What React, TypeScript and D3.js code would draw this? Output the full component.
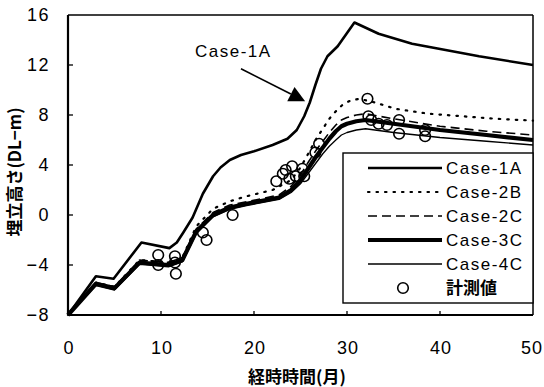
import React from "react";
import * as d3 from "d3";

// Fill height (DL-m) versus elapsed time (months), per analysis case
const case1A: [number, number][] = [
  [0, -8], [3.0, -4.9], [4.9, -5.1], [7.9, -2.2], [10.9, -2.65], [11.7, -2.2],
  [12.4, -1.4], [13.4, -0.2], [14.5, 1.7], [15.6, 3.1], [16.4, 3.8], [17.4, 4.4],
  [18.6, 4.8], [20, 5.1], [22, 5.6], [23.6, 6.1], [24.6, 6.8], [25.4, 7.9],
  [26.0, 9.0], [26.6, 10.4], [27.2, 11.7], [27.9, 12.7], [29, 13.5], [30.8, 15.4],
  [33.4, 14.5], [37, 13.7], [40.6, 13.2], [44.2, 12.7], [50, 12.0],
];

const case2B: [number, number][] = [
  [0, -8], [3, -5.4], [5, -5.75], [7.7, -3.6], [10.8, -3.8], [12.3, -3.4],
  [13.8, -0.9], [15.6, 0.5], [17.4, 1.1], [19.2, 1.5], [22, 2.0], [24, 2.8],
  [25, 3.8], [25.9, 5.0], [26.7, 6.1], [27.4, 6.9], [28.1, 7.7], [28.8, 8.3],
  [29.5, 8.8], [30.2, 9.1], [31.3, 9.3], [33, 9.0], [35.2, 8.5], [38.8, 8.1],
  [42.4, 7.9], [45.9, 7.7], [50, 7.55],
];

const case2C: [number, number][] = [
  [0, -8], [3, -5.4], [5, -5.75], [7.7, -3.6], [10.8, -3.8], [12.3, -3.4],
  [13.8, -1.1], [15.6, 0.2], [17.4, 0.8], [19.2, 1.05], [22.7, 1.6], [24, 2.3],
  [25, 3.2], [25.9, 4.3], [26.7, 5.2], [27.4, 5.9], [28.1, 6.6], [28.8, 7.2],
  [29.4, 7.6], [30, 7.8], [31, 8.0], [32, 8.1], [35, 7.7], [40, 7.1], [45, 6.7],
  [50, 6.4],
];

const case3C: [number, number][] = [
  [0, -8], [3, -5.5], [5, -5.85], [7.7, -3.8], [10.8, -4.0], [12.3, -3.6],
  [13.8, -1.3], [15.6, 0.0], [17.4, 0.6], [19.2, 0.9], [22.7, 1.4], [24, 2.0],
  [25, 2.8], [25.9, 3.8], [26.7, 4.7], [27.4, 5.4], [28.1, 6.1], [28.8, 6.7],
  [29.4, 7.1], [30, 7.3], [31, 7.5], [32, 7.6], [35, 7.3], [40, 6.8], [45, 6.4],
  [50, 6.0],
];

const case4C: [number, number][] = [
  [0, -8], [3, -5.65], [5, -6.0], [7.7, -3.95], [10.8, -4.15], [12.3, -3.75],
  [13.8, -1.5], [15.6, -0.15], [17.4, 0.45], [19.2, 0.75], [22.7, 1.25], [24, 1.8],
  [25, 2.5], [25.9, 3.4], [26.7, 4.2], [27.4, 4.9], [28.1, 5.5], [28.8, 6.0],
  [29.4, 6.4], [30, 6.6], [31, 6.8], [32, 6.9], [35, 6.6], [40, 6.2], [45, 5.9],
  [50, 5.6],
];

// Field measurements (month, fill height)
const measured: [number, number][] = [
  [9.7, -3.2], [9.7, -4.0], [11.5, -3.3], [11.5, -3.8], [11.6, -4.7],
  [14.5, -1.4], [14.9, -2.0], [17.7, 0.0],
  [22.4, 2.7], [23.1, 3.3], [23.4, 3.6], [23.8, 2.9], [24.1, 3.9], [24.5, 3.1],
  [25.2, 3.7], [25.4, 3.1], [26.6, 5.0], [27.0, 5.7],
  [32.2, 9.3], [32.3, 7.9], [32.6, 7.6], [33.4, 7.3], [34.3, 7.2],
  [35.6, 7.6], [35.6, 6.5], [38.4, 6.8], [38.4, 6.3],
];

const xTicks = [0, 10, 20, 30, 40, 50];
const yTicks = [-8, -4, 0, 4, 8, 12, 16];

const legendLabels = ["Case-1A", "Case-2B", "Case-2C", "Case-3C", "Case-4C", "計測値"];

type Style = { width: number; dash?: string; cap?: "round" | "butt" };
const seriesStyles: Style[] = [
  { width: 2.6 },
  { width: 2.2, dash: "1.5 7", cap: "round" },
  { width: 1.6, dash: "9 5" },
  { width: 4.2 },
  { width: 1.3 },
];

const W = 544;
const H = 387;
const plot = { left: 68, right: 533, top: 15, bottom: 315 };

const latin = "'Liberation Sans', Arial, sans-serif";
const cjk = "'Noto Sans CJK JP', 'Liberation Sans', sans-serif";

export default function App() {
  const x = d3.scaleLinear().domain([0, 50]).range([plot.left, plot.right]);
  const y = d3.scaleLinear().domain([-8, 16]).range([plot.bottom, plot.top]);

  const line = d3
    .line<[number, number]>()
    .x((d) => x(d[0]))
    .y((d) => y(d[1]))
    .curve(d3.curveLinear);

  const series = [case1A, case2B, case2C, case3C, case4C];

  // annotation arrow for Case-1A
  const arrowFrom: [number, number] = [18.6, 11.7];
  const arrowTip: [number, number] = [25.5, 9.1];
  const ax0 = x(arrowFrom[0]);
  const ay0 = y(arrowFrom[1]);
  const ax1 = x(arrowTip[0]);
  const ay1 = y(arrowTip[1]);
  const len = Math.hypot(ax1 - ax0, ay1 - ay0);
  const ux = (ax1 - ax0) / len;
  const uy = (ay1 - ay0) / len;
  const headL = 16;
  const headW = 8;
  const bx = ax1 - ux * headL;
  const by = ay1 - uy * headL;
  const head = [
    [ax1, ay1],
    [bx - uy * headW, by + ux * headW],
    [bx + uy * headW, by - ux * headW],
  ]
    .map((p) => p.join(","))
    .join(" ");

  const legend = { left: 343, top: 153, right: 533, bottom: 303, row0: 168, step: 24 };

  return (
    <svg
      width={W}
      height={H}
      style={{ position: "absolute", left: 0, top: 0, background: "#fff" }}
    >
      <rect x={0} y={0} width={W} height={H} fill="#fff" />

      {/* series lines */}
      {series.map((s, i) => (
        <path
          key={i}
          d={line(s) || ""}
          fill="none"
          stroke="#000"
          strokeWidth={seriesStyles[i].width}
          strokeDasharray={seriesStyles[i].dash}
          strokeLinecap={seriesStyles[i].cap || "butt"}
          strokeLinejoin="round"
        />
      ))}

      {/* measured points */}
      {measured.map((d, i) => (
        <circle
          key={i}
          cx={x(d[0])}
          cy={y(d[1])}
          r={5.3}
          fill="none"
          stroke="#000"
          strokeWidth={1.6}
        />
      ))}

      {/* frame */}
      <line x1={plot.left} x2={plot.right} y1={plot.top} y2={plot.top} stroke="#000" strokeWidth={1.5} />
      <line x1={plot.right} x2={plot.right} y1={plot.top} y2={plot.bottom} stroke="#000" strokeWidth={1.5} />
      <line x1={plot.left} x2={plot.left} y1={plot.top} y2={plot.bottom} stroke="#000" strokeWidth={2.2} />
      <line x1={plot.left} x2={plot.right} y1={plot.bottom} y2={plot.bottom} stroke="#000" strokeWidth={2.2} />

      {/* y ticks */}
      {yTicks.map((t) => (
        <g key={t}>
          {t > -8 && t < 16 && (
            <line x1={plot.left} x2={plot.left + 5} y1={y(t)} y2={y(t)} stroke="#000" strokeWidth={1.3} />
          )}
          <text
            x={50}
            y={y(t)}
            dy="0.36em"
            textAnchor="end"
            fontFamily={latin}
            fontSize={18}
            letterSpacing={1.5}
            fill="#000"
          >
            {t < 0 ? `−${Math.abs(t)}` : t}
          </text>
        </g>
      ))}

      {/* x ticks */}
      {xTicks.map((t) => (
        <g key={t}>
          {t > 0 && t < 50 && (
            <line x1={x(t)} x2={x(t)} y1={plot.bottom} y2={plot.bottom - 4} stroke="#000" strokeWidth={1.3} />
          )}
          <text
            x={t === 50 ? x(t) - 1 : x(t) + 1}
            y={348}
            dy="0.36em"
            textAnchor="middle"
            fontFamily={latin}
            fontSize={18}
            letterSpacing={1}
            fill="#000"
          >
            {t}
          </text>
        </g>
      ))}

      {/* axis titles */}
      <text
        x={297}
        y={377}
        dy="0.36em"
        textAnchor="middle"
        fontFamily={cjk}
        fontSize={17}
        fontWeight={700}
        fill="#000"
      >
        経時時間(月)
      </text>
      <text
        transform={`translate(15,172) rotate(-90)`}
        dy="0.36em"
        textAnchor="middle"
        fontFamily={cjk}
        fontSize={17}
        fontWeight={700}
        fill="#000"
      >
        埋立高さ(DL−m)
      </text>

      {/* Case-1A annotation */}
      <text x={195} y={57} fontFamily={latin} fontSize={17} letterSpacing={1.5} fill="#000">
        Case-1A
      </text>
      <line x1={ax0} y1={ay0} x2={bx} y2={by} stroke="#000" strokeWidth={1.6} />
      <polygon points={head} fill="#000" />

      {/* legend */}
      <rect
        x={legend.left}
        y={legend.top}
        width={legend.right - legend.left}
        height={legend.bottom - legend.top}
        fill="#fff"
        stroke="#000"
        strokeWidth={1.4}
      />
      {legendLabels.map((label, i) => {
        const cy = legend.row0 + i * legend.step;
        const st = seriesStyles[i];
        return (
          <g key={label}>
            {st ? (
              <line
                x1={368}
                x2={442}
                y1={cy}
                y2={cy}
                stroke="#000"
                strokeWidth={st.width}
                strokeDasharray={st.dash}
                strokeLinecap={st.cap || "butt"}
              />
            ) : (
              <circle cx={403} cy={cy} r={5.3} fill="none" stroke="#000" strokeWidth={1.6} />
            )}
            <text
              x={446}
              y={cy}
              dy="0.36em"
              fontFamily={st ? latin : cjk}
              fontSize={17}
              fontWeight={st ? 400 : 700}
              letterSpacing={st ? 1.5 : 0}
              fill="#000"
            >
              {label}
            </text>
          </g>
        );
      })}
    </svg>
  );
}
